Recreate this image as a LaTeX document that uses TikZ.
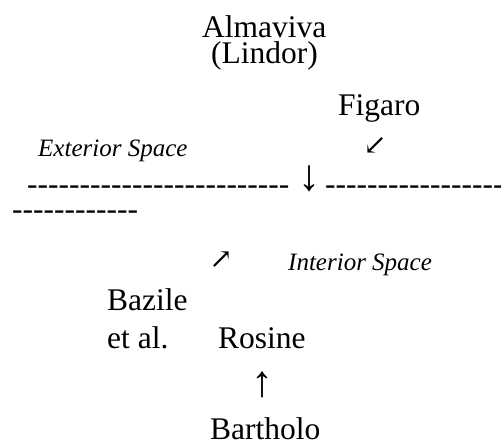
\documentclass[tikz,border=0pt]{standalone}
\usepackage{fontspec}
\setmainfont{Liberation Serif}[Ligatures=TeXOff]
\newfontfamily\diagarrowfont{DejaVu Serif}
\tikzset{
  rolename/.style={font=\fontsize{31.5}{36}\selectfont, inner sep=0pt, anchor=base west},
  spacename/.style={font=\fontsize{25}{30}\selectfont\itshape, inner sep=0pt, anchor=base west},
  vglyph/.style={font=\fontsize{44}{48}\selectfont, inner sep=0pt, anchor=center},
  dglyph/.style={font=\diagarrowfont\fontsize{28}{32}\selectfont, inner sep=0pt, anchor=center},
}
\begin{document}
\begin{tikzpicture}[x=1pt,y=1pt]
\useasboundingbox (0,0) rectangle (501,-442);
\clip (0,0) rectangle (501,-442);
\node[rolename] (almaviva) at (202,-37) {Almaviva};
\node[rolename] (lindor) at (211,-63) {(Lindor)};
\node[rolename] (figaro) at (338,-115) {Figaro};
\node[spacename] (exterior) at (38,-156) {Exterior Space};
\node[dglyph] (arrowfig) at (375,-146) {↙};
\node[rolename] (dashleft) at (27,-194) {-------------------------};
\node[vglyph] (arrowdown) at (309,-179) {↓};
\node[rolename] (dashright) at (325,-194) {-----------------};
\node[rolename] (dashwrap) at (12,-219) {------------};
\node[dglyph] (arrowbaz) at (221,-260) {↗};
\node[spacename] (interior) at (288,-270) {Interior Space};
\node[rolename] (bazile) at (107,-310) {Bazile};
\node[rolename] (etal) at (107,-348) {et al.};
\node[rolename] (rosine) at (218,-348) {Rosine};
\node[vglyph] (arrowup) at (262,-385) {↑};
\node[rolename] (bartholo) at (210,-439) {Bartholo};
\end{tikzpicture}
\end{document}
